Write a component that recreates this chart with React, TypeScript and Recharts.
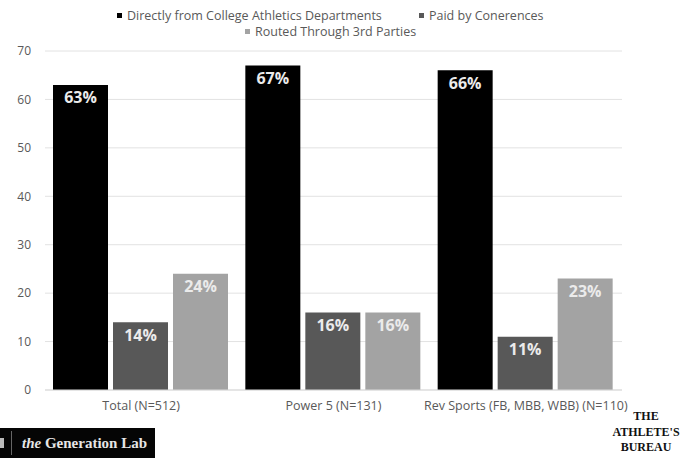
import React from 'react';
import { BarChart, Bar, XAxis, YAxis, CartesianGrid, LabelList } from 'recharts';

// Where athletes' payments come from, by group
const categories = ['Total (N=512)', 'Power 5 (N=131)', 'Rev Sports (FB, MBB, WBB) (N=110)'];
const directlyFromDepartments = [63, 67, 66];
const paidByConferences = [14, 16, 11];
const routedThroughThirdParties = [24, 16, 23];
const yTicks = [0, 10, 20, 30, 40, 50, 60, 70];

const seriesNames = [
  'Directly from College Athletics Departments',
  'Paid by Conerences',
  'Routed Through 3rd Parties',
];
const seriesColors = ['#000000', '#585858', '#a3a3a3'];

const data = categories.map((name, i) => ({
  name,
  directly: directlyFromDepartments[i],
  conferences: paidByConferences[i],
  thirdParties: routedThroughThirdParties[i],
}));

const FONT = '"Open Sans", "Liberation Sans", sans-serif';
const TEXT_GRAY = '#595959';

const pct = (v: any) => `${v}%`;

function LegendItem({ color, label, x, y }: { color: string; label: string; x: number; y: number }) {
  return (
    <div
      style={{
        position: 'absolute',
        left: x,
        top: y,
        display: 'flex',
        alignItems: 'center',
        fontFamily: FONT,
        fontSize: 12.5,
        color: TEXT_GRAY,
        whiteSpace: 'nowrap',
        lineHeight: '15px',
      }}
    >
      <span style={{ display: 'inline-block', width: 5, height: 5, background: color, marginRight: 5 }} />
      {label}
    </div>
  );
}

export default function App() {
  const barLabel = {
    position: 'insideTop' as const,
    offset: 7,
    fill: '#ebebeb',
    fontSize: 16,
    fontWeight: 700,
    fontFamily: FONT,
    formatter: pct,
  };

  return (
    <div style={{ position: 'absolute', left: 0, top: 0, width: 681, height: 458, background: '#fff', overflow: 'hidden' }}>
      <LegendItem color={seriesColors[0]} label={seriesNames[0]} x={117} y={8} />
      <LegendItem color={seriesColors[1]} label={seriesNames[1]} x={419} y={8} />
      <LegendItem color={seriesColors[2]} label={seriesNames[2]} x={245} y={24} />

      <BarChart
        width={681}
        height={458}
        data={data}
        margin={{ top: 51, right: 59, bottom: 40, left: 5 }}
        barCategoryGap={8}
        barGap={5}
      >
        <CartesianGrid vertical={false} stroke="#e2e2e2" />
        <XAxis
          dataKey="name"
          height={28}
          tickLine={false}
          axisLine={{ stroke: '#d9d9d9' }}
          tick={{ fill: TEXT_GRAY, fontSize: 12.5, fontFamily: FONT }}
          tickMargin={5}
          interval={0}
        />
        <YAxis
          width={40}
          domain={[0, 70]}
          ticks={yTicks}
          tickLine={false}
          axisLine={false}
          tick={{ fill: TEXT_GRAY, fontSize: 12, fontFamily: FONT }}
          tickMargin={8}
        />
        <Bar dataKey="directly" name={seriesNames[0]} fill={seriesColors[0]} isAnimationActive={false}>
          <LabelList dataKey="directly" {...barLabel} />
        </Bar>
        <Bar dataKey="conferences" name={seriesNames[1]} fill={seriesColors[1]} isAnimationActive={false}>
          <LabelList dataKey="conferences" {...barLabel} />
        </Bar>
        <Bar dataKey="thirdParties" name={seriesNames[2]} fill={seriesColors[2]} isAnimationActive={false}>
          <LabelList dataKey="thirdParties" {...barLabel} />
        </Bar>
      </BarChart>

      {/* The Generation Lab badge, bottom left */}
      <div
        style={{
          position: 'absolute',
          left: 0,
          top: 428,
          width: 155,
          height: 30,
          background: '#050505',
          display: 'flex',
          alignItems: 'center',
        }}
      >
        <div style={{ width: 4, height: 10, background: '#bbb', marginLeft: 0 }} />
        <div style={{ width: 1, height: 24, background: '#666', marginLeft: 7 }} />
        <div
          style={{
            marginLeft: 10,
            color: '#e6e6e6',
            fontFamily: '"Liberation Serif", "DejaVu Serif", serif',
            fontSize: 15,
            fontWeight: 700,
            whiteSpace: 'nowrap',
          }}
        >
          <span style={{ fontStyle: 'italic' }}>the</span> Generation Lab
        </div>
      </div>

      {/* The Athlete's Bureau wordmark, bottom right */}
      <div
        style={{
          position: 'absolute',
          left: 604,
          top: 409,
          width: 84,
          textAlign: 'center',
          fontFamily: '"Liberation Serif", "DejaVu Serif", serif',
          fontWeight: 700,
          fontSize: 12,
          lineHeight: '15.5px',
          color: '#111',
        }}
      >
        <div>THE</div>
        <div>ATHLETE'S</div>
        <div>BUREAU</div>
      </div>
    </div>
  );
}
